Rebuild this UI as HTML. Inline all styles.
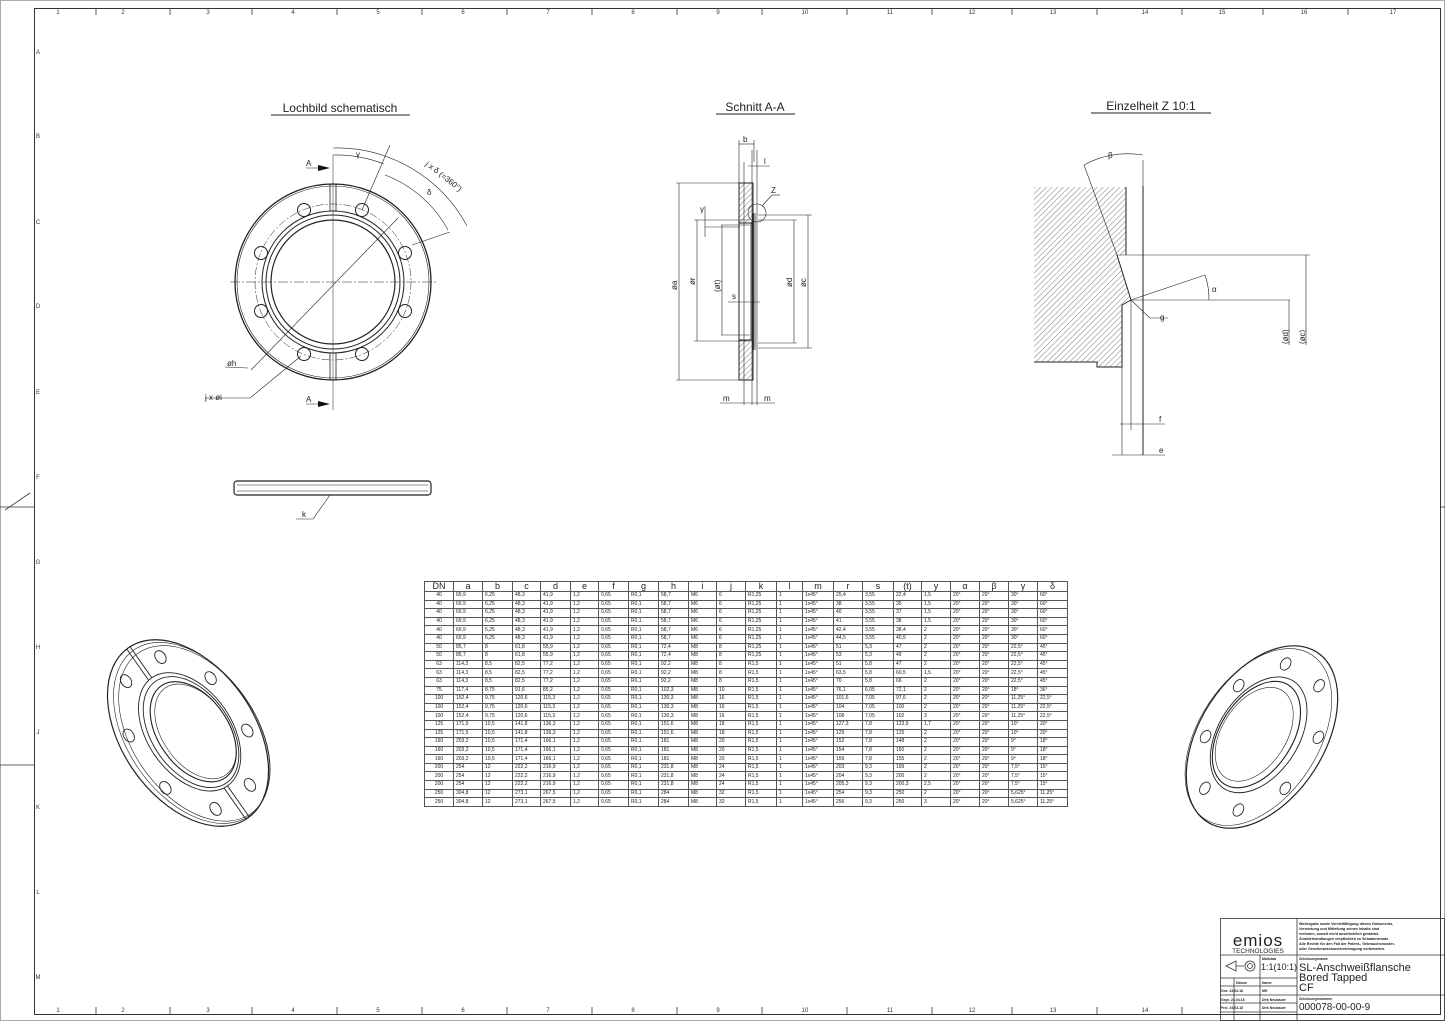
<!DOCTYPE html>
<html><head><meta charset="utf-8"><style>
html,body{margin:0;padding:0;background:#fff;}
body{width:1445px;height:1021px;position:relative;overflow:hidden;font-family:"Liberation Sans",sans-serif;}
svg{position:absolute;left:0;top:0;}
table.t{position:absolute;left:424px;top:581px;border-collapse:collapse;table-layout:fixed;font-family:"Liberation Sans",sans-serif;font-size:5px;color:#222;}
table.t td{border:0.8px solid #555;height:7.6px;padding:0 0 0 2px;line-height:7px;white-space:nowrap;overflow:hidden;}
table.t td:first-child{text-align:center;padding:0;}
table.t tr.h td{height:9px;font-size:9px;text-align:center;line-height:9px;padding:0;}
</style></head><body>
<svg width="1445" height="1021" viewBox="0 0 1445 1021" font-family="Liberation Sans, sans-serif">
<defs>
<pattern id="hat" width="4" height="4" patternUnits="userSpaceOnUse" patternTransform="rotate(45)"><line x1="0" y1="0" x2="0" y2="4" stroke="#444" stroke-width="0.7"/></pattern>
<g id="isoholes">
<ellipse cx="21" cy="-78" rx="5" ry="7"/><ellipse cx="-21" cy="-78" rx="5" ry="7"/><ellipse cx="-50" cy="-32" rx="5" ry="7"/><ellipse cx="50" cy="-32" rx="5" ry="7"/><ellipse cx="-50" cy="32" rx="5" ry="7"/><ellipse cx="50" cy="32" rx="5" ry="7"/><ellipse cx="21" cy="78" rx="5" ry="7"/><ellipse cx="-21" cy="78" rx="5" ry="7"/>
</g>
</defs>
<rect x="0.5" y="0.5" width="1444" height="1020" fill="none" stroke="#aaa"/>
<rect x="34.5" y="8.5" width="1406" height="1006" fill="none" stroke="#333" stroke-width="1"/>
<g stroke="#333" stroke-width="0.8">
<line x1="96" y1="8" x2="96" y2="15"/><line x1="170" y1="8" x2="170" y2="15"/><line x1="252" y1="8" x2="252" y2="15"/><line x1="337" y1="8" x2="337" y2="15"/><line x1="422" y1="8" x2="422" y2="15"/><line x1="507" y1="8" x2="507" y2="15"/><line x1="592" y1="8" x2="592" y2="15"/><line x1="677" y1="8" x2="677" y2="15"/><line x1="762" y1="8" x2="762" y2="15"/><line x1="847" y1="8" x2="847" y2="15"/><line x1="932" y1="8" x2="932" y2="15"/><line x1="1012" y1="8" x2="1012" y2="15"/><line x1="1097" y1="8" x2="1097" y2="15"/><line x1="1182" y1="8" x2="1182" y2="15"/><line x1="1263" y1="8" x2="1263" y2="15"/><line x1="1348" y1="8" x2="1348" y2="15"/>
<line x1="96" y1="1014" x2="96" y2="1007"/><line x1="170" y1="1014" x2="170" y2="1007"/><line x1="252" y1="1014" x2="252" y2="1007"/><line x1="337" y1="1014" x2="337" y2="1007"/><line x1="422" y1="1014" x2="422" y2="1007"/><line x1="507" y1="1014" x2="507" y2="1007"/><line x1="592" y1="1014" x2="592" y2="1007"/><line x1="677" y1="1014" x2="677" y2="1007"/><line x1="762" y1="1014" x2="762" y2="1007"/><line x1="847" y1="1014" x2="847" y2="1007"/><line x1="932" y1="1014" x2="932" y2="1007"/><line x1="1012" y1="1014" x2="1012" y2="1007"/><line x1="1097" y1="1014" x2="1097" y2="1007"/><line x1="1182" y1="1014" x2="1182" y2="1007"/>
<line x1="0" y1="507" x2="34" y2="507"/><line x1="0" y1="765" x2="34" y2="765"/><line x1="30" y1="493" x2="5" y2="510"/><line x1="1441" y1="507" x2="1445" y2="507"/>
</g>
<g font-size="6" fill="#333" text-anchor="middle">
<text x="58" y="14">1</text><text x="123" y="14">2</text><text x="208" y="14">3</text><text x="293" y="14">4</text><text x="378" y="14">5</text><text x="463" y="14">6</text><text x="548" y="14">7</text><text x="633" y="14">8</text><text x="718" y="14">9</text><text x="805" y="14">10</text><text x="890" y="14">11</text><text x="972" y="14">12</text><text x="1053" y="14">13</text><text x="1145" y="14">14</text><text x="1222" y="14">15</text><text x="1304" y="14">16</text><text x="1393" y="14">17</text>
<text x="58" y="1012">1</text><text x="123" y="1012">2</text><text x="208" y="1012">3</text><text x="293" y="1012">4</text><text x="378" y="1012">5</text><text x="463" y="1012">6</text><text x="548" y="1012">7</text><text x="633" y="1012">8</text><text x="718" y="1012">9</text><text x="805" y="1012">10</text><text x="890" y="1012">11</text><text x="972" y="1012">12</text><text x="1053" y="1012">13</text><text x="1145" y="1012">14</text>
<text x="38" y="54">A</text><text x="38" y="138">B</text><text x="38" y="224">C</text><text x="38" y="308">D</text><text x="38" y="394">E</text><text x="38" y="479">F</text><text x="38" y="564">G</text><text x="38" y="649">H</text><text x="38" y="734">J</text><text x="38" y="809">K</text><text x="38" y="894">L</text><text x="38" y="979">M</text>
</g>
<g font-size="12" fill="#222" text-anchor="middle">
<text x="340" y="112">Lochbild schematisch</text><line x1="271" y1="115" x2="410" y2="115" stroke="#222"/>
<text x="755" y="111">Schnitt A-A</text><line x1="716" y1="114" x2="795" y2="114" stroke="#222"/>
<text x="1151" y="110">Einzelheit Z 10:1</text><line x1="1091" y1="113" x2="1211" y2="113" stroke="#222"/>
</g>
<!-- Lochbild -->
<g fill="none" stroke="#222" stroke-width="1">
<circle cx="333" cy="282" r="98" stroke-width="1.3"/><circle cx="333" cy="282" r="96" stroke-width="0.6"/>
<circle cx="333" cy="282" r="71"/><circle cx="333" cy="282" r="67"/><circle cx="333" cy="282" r="62" stroke-width="1.2"/>
<circle cx="333" cy="282" r="78" stroke-width="0.5" stroke-dasharray="8 2 2 2"/>
<circle cx="362" cy="210" r="6.5"/><circle cx="304" cy="210" r="6.5"/><circle cx="405" cy="253" r="6.5"/><circle cx="261" cy="253" r="6.5"/><circle cx="405" cy="311" r="6.5"/><circle cx="261" cy="311" r="6.5"/><circle cx="362" cy="354" r="6.5"/><circle cx="304" cy="354" r="6.5"/>
<rect x="330" y="184" width="6" height="27" stroke-width="0.8"/><rect x="330" y="353" width="6" height="27" stroke-width="0.8"/>
<line x1="230" y1="282" x2="437" y2="282" stroke-width="0.5" stroke-dasharray="10 2 2 2"/>
<line x1="333" y1="155" x2="333" y2="410" stroke-width="0.5"/>
<line x1="251" y1="370" x2="398" y2="218" stroke-width="0.6"/>
<path d="M248 368 L225 367 M301 356 L250 398 L205 398" stroke-width="0.6"/>
<line x1="362" y1="210" x2="390" y2="145" stroke-width="0.6"/><line x1="412" y1="245" x2="450" y2="232" stroke-width="0.6"/>
<path d="M333 155 A135 135 0 0 1 384 164" stroke-width="0.6"/>
<path d="M333 148 A148 148 0 0 1 467 226" stroke-width="0.6"/>
<path d="M385 175 A120 120 0 0 1 448 230" stroke-width="0.6"/>
<line x1="306" y1="168" x2="325" y2="168" stroke-width="0.6"/><line x1="306" y1="404" x2="325" y2="404" stroke-width="0.6"/>
</g>
<path d="M318 165 L330 168 L318 171Z M318 401 L330 404 L318 407Z" fill="#111"/>
<g font-size="8" fill="#222">
<text x="306" y="166">A</text><text x="306" y="402">A</text><text x="356" y="157">γ</text>
<text x="425" y="165" transform="rotate(38 425 165)">j x δ (=360°)</text><text x="427" y="195">δ</text>
<text x="227" y="366">øh</text><text x="205" y="400">j x øi</text>
</g>
<!-- side view -->
<g fill="none" stroke="#222">
<rect x="234" y="481" width="197" height="14" rx="3" stroke-width="1.2"/>
<line x1="237" y1="485" x2="428" y2="485" stroke-width="0.6"/><line x1="237" y1="491" x2="428" y2="491" stroke-width="0.6"/>
<line x1="330" y1="495" x2="313" y2="519" stroke-width="0.6"/><line x1="313" y1="519" x2="296" y2="519" stroke-width="0.6"/>
</g>
<text x="302" y="517" font-size="8" fill="#222">k</text>
<!-- Schnitt A-A -->
<g fill="none" stroke="#222" stroke-width="0.6">
<rect x="739" y="183" width="14" height="40" fill="url(#hat)" stroke-width="1"/>
<rect x="739" y="340" width="14" height="40" fill="url(#hat)" stroke-width="1"/>
<line x1="739" y1="223" x2="739" y2="340" stroke-width="1"/><line x1="751" y1="223" x2="751" y2="340" stroke-width="0.8"/>
<line x1="753" y1="213" x2="753" y2="350" stroke-width="1.8"/><line x1="755" y1="213" x2="755" y2="350" stroke-width="0.8"/>
<line x1="744" y1="162" x2="744" y2="405"/><line x1="752" y1="150" x2="752" y2="405"/><line x1="739" y1="140" x2="739" y2="183"/><line x1="754" y1="140" x2="754" y2="162"/><line x1="757" y1="150" x2="757" y2="405"/>
<line x1="739" y1="144" x2="754" y2="144"/><line x1="748" y1="166" x2="770" y2="166"/>
<line x1="676" y1="183" x2="739" y2="183"/><line x1="676" y1="380" x2="739" y2="380"/><line x1="679" y1="183" x2="679" y2="380"/>
<line x1="694" y1="220" x2="750" y2="220"/><line x1="694" y1="341" x2="750" y2="341"/><line x1="697" y1="220" x2="697" y2="341"/>
<line x1="721" y1="225" x2="750" y2="225"/><line x1="721" y1="335" x2="750" y2="335"/><line x1="722" y1="225" x2="722" y2="335"/>
<line x1="705" y1="206" x2="705" y2="237"/><line x1="705" y1="227" x2="740" y2="227"/>
<line x1="758" y1="215" x2="812" y2="215"/><line x1="758" y1="348" x2="812" y2="348"/><line x1="808" y1="215" x2="808" y2="348"/>
<line x1="758" y1="220" x2="797" y2="220"/><line x1="758" y1="343" x2="797" y2="343"/><line x1="794" y1="220" x2="794" y2="343"/>
<line x1="728" y1="302" x2="760" y2="302"/>
<circle cx="757" cy="213" r="9"/><line x1="762" y1="206" x2="772" y2="195"/><line x1="772" y1="195" x2="780" y2="195"/>
<line x1="720" y1="403" x2="775" y2="403"/>
</g>
<g font-size="8" fill="#222">
<text x="743" y="142">b</text><text x="764" y="164">l</text><text x="771" y="193">Z</text><text x="700" y="212">γ</text>
<text x="677" y="290" transform="rotate(-90 677 290)">øa</text><text x="695" y="285" transform="rotate(-90 695 285)">ør</text>
<text x="720" y="292" transform="rotate(-90 720 292)">(øt)</text><text x="732" y="299">s</text>
<text x="792" y="287" transform="rotate(-90 792 287)">ød</text><text x="806" y="287" transform="rotate(-90 806 287)">øc</text>
<text x="723" y="401">m</text><text x="764" y="401">m</text>
</g>
<!-- Einzelheit Z -->
<g fill="none" stroke="#222" stroke-width="0.6">
<path d="M1034 187 L1126 187 L1126 255 L1117 255 L1131 300 L1122 305 L1122 367 L1097 367 L1097 362 L1034 362" fill="url(#hat)" stroke="none"/>
<path d="M1126 187 L1126 255 M1034 362 L1097 362 L1097 367 L1122 367 L1122 305 L1131 300" stroke-width="1"/>
<line x1="1143" y1="186" x2="1143" y2="455" stroke-width="1"/><line x1="1131" y1="300" x2="1131" y2="430"/><line x1="1122" y1="305" x2="1122" y2="455"/>
<line x1="1117" y1="255" x2="1310" y2="255"/><line x1="1131" y1="300" x2="1290" y2="300"/>
<line x1="1117" y1="255" x2="1131" y2="300" stroke-width="1"/><line x1="1117" y1="255" x2="1084" y2="165"/><line x1="1143" y1="160" x2="1143" y2="186"/>
<path d="M1084 165 A90 90 0 0 1 1143 155"/>
<line x1="1131" y1="300" x2="1205" y2="275"/><path d="M1205 275 A75 75 0 0 1 1209 300"/>
<line x1="1131" y1="300" x2="1150" y2="318"/><line x1="1150" y1="318" x2="1168" y2="318"/>
<line x1="1306" y1="255" x2="1306" y2="345"/><line x1="1289" y1="300" x2="1289" y2="345"/>
<line x1="1120" y1="424" x2="1165" y2="424"/><line x1="1112" y1="455" x2="1165" y2="455"/>
</g>
<g font-size="8" fill="#222">
<text x="1108" y="158">β</text><text x="1212" y="292">α</text><text x="1160" y="320">g</text>
<text x="1288" y="344" transform="rotate(-90 1288 344)">(ød)</text><text x="1305" y="344" transform="rotate(-90 1305 344)">(øc)</text>
<text x="1159" y="422">f</text><text x="1159" y="453">e</text>
</g>
<!-- iso left -->
<g fill="none" stroke="#222" stroke-width="0.9" transform="translate(188 733) rotate(-35)">
<ellipse rx="66" ry="104" stroke-width="1.2"/><ellipse cx="3" cy="2" rx="64" ry="101" stroke-width="0.6"/><ellipse cx="5" cy="4" rx="62" ry="98" stroke-width="0.6"/>
<ellipse cx="2" cy="0" rx="42" ry="66"/><ellipse cx="3" cy="1" rx="39" ry="62"/><ellipse cx="5" cy="2" rx="35" ry="56" stroke-width="1.1"/><ellipse cx="7" cy="3" rx="33" ry="53" stroke-width="0.6"/>
<use href="#isoholes"/>
<line x1="-2" y1="-104" x2="-2" y2="-66"/><line x1="2" y1="-104" x2="2" y2="-66"/><line x1="-2" y1="104" x2="-2" y2="66"/><line x1="2" y1="104" x2="2" y2="66"/>
</g>
<!-- iso right -->
<g fill="none" stroke="#222" stroke-width="0.9" transform="translate(1262 737) rotate(33)">
<ellipse rx="62" ry="101" stroke-width="1.2"/><ellipse cx="-3" cy="2" rx="60" ry="98" stroke-width="0.6"/>
<ellipse cx="-4" cy="0" rx="40" ry="64"/><ellipse cx="-6" cy="1" rx="36" ry="59" stroke-width="1.1"/><ellipse cx="-8" cy="2" rx="32" ry="52" stroke-width="0.6"/>
<g transform="scale(0.95)"><use href="#isoholes"/></g>
</g>
<!-- title block -->
<g fill="none" stroke="#333" stroke-width="0.8">
<rect x="1220.5" y="918.5" width="224" height="102"/>
<line x1="1297" y1="918" x2="1297" y2="1021"/><line x1="1220" y1="955" x2="1445" y2="955"/>
<line x1="1260" y1="955" x2="1260" y2="978"/><line x1="1220" y1="978" x2="1297" y2="978"/>
<line x1="1220" y1="986" x2="1297" y2="986"/><line x1="1220" y1="995" x2="1297" y2="995"/><line x1="1220" y1="1003" x2="1297" y2="1003"/><line x1="1220" y1="1012" x2="1297" y2="1012"/>
<line x1="1234" y1="978" x2="1234" y2="1021"/><line x1="1260" y1="978" x2="1260" y2="1021"/>
<line x1="1297" y1="995" x2="1445" y2="995"/>
<path d="M1226 966 L1236 961 L1236 971Z M1236 966 L1244 966"/><circle cx="1250" cy="966" r="5"/><circle cx="1250" cy="966" r="2.5"/>
</g>
<g fill="#222">
<text x="1258" y="946" font-size="17" text-anchor="middle" font-weight="300" letter-spacing="1">emios</text>
<text x="1258" y="953" font-size="6.5" text-anchor="middle">TECHNOLOGIES</text>
<text x="1262" y="960" font-size="3.5" font-weight="bold">Maßstab</text>
<text x="1261" y="970" font-size="9">1:1(10:1)</text>
<text x="1236" y="984" font-size="3.5" font-weight="bold">Datum</text><text x="1262" y="984" font-size="3.5" font-weight="bold">Name</text>
<text x="1221" y="992" font-size="3.5" font-weight="bold">Gez. 24.04.18</text><text x="1262" y="992" font-size="3.5" font-weight="bold">MH</text>
<text x="1221" y="1001" font-size="3.5" font-weight="bold">Gepr. 24.04.18</text><text x="1262" y="1001" font-size="3.5" font-weight="bold">Dirk Neubauer</text>
<text x="1221" y="1009" font-size="3.5" font-weight="bold">Frei. 24.04.18</text><text x="1262" y="1009" font-size="3.5" font-weight="bold">Dirk Neubauer</text>
<text x="1299" y="925" font-size="3.7" font-weight="bold">Weitergabe sowie Vervielfältigung dieses Dokuments,</text>
<text x="1299" y="930" font-size="3.7" font-weight="bold">Verwertung und Mitteilung seines Inhalts sind</text>
<text x="1299" y="935" font-size="3.7" font-weight="bold">verboten, soweit nicht ausdrücklich gestattet.</text>
<text x="1299" y="940" font-size="3.7" font-weight="bold">Zuwiderhandlungen verpflichten zu Schadenersatz.</text>
<text x="1299" y="945" font-size="3.7" font-weight="bold">Alle Rechte für den Fall der Patent-, Gebrauchsmuster-</text>
<text x="1299" y="950" font-size="3.7" font-weight="bold">oder Geschmacksmustereintragung vorbehalten.</text>
<text x="1299" y="960" font-size="3.5" font-weight="bold">Zeichnungsname</text>
<text x="1299" y="971" font-size="11">SL-Anschweißflansche</text>
<text x="1299" y="981" font-size="11">Bored Tapped</text>
<text x="1299" y="991" font-size="11">CF</text>
<text x="1299" y="1000" font-size="3.5" font-weight="bold">Zeichnungsnummer</text>
<text x="1299" y="1010" font-size="10">000078-00-00-9</text>
</g>
</svg>
<table class="t">
<colgroup><col style="width:29px"><col style="width:29px"><col style="width:30px"><col style="width:28px"><col style="width:30px"><col style="width:28px"><col style="width:30px"><col style="width:30px"><col style="width:30px"><col style="width:28px"><col style="width:29px"><col style="width:31px"><col style="width:26px"><col style="width:31px"><col style="width:29px"><col style="width:31px"><col style="width:28px"><col style="width:29px"><col style="width:29px"><col style="width:29px"><col style="width:29px"><col style="width:30px"></colgroup>
<tr class="h"><td>DN</td><td>a</td><td>b</td><td>c</td><td>d</td><td>e</td><td>f</td><td>g</td><td>h</td><td>i</td><td>j</td><td>k</td><td>l</td><td>m</td><td>r</td><td>s</td><td>(t)</td><td>y</td><td>α</td><td>β</td><td>γ</td><td>δ</td></tr>
<tr><td>40</td><td>69,9</td><td>6,25</td><td>48,3</td><td>41,9</td><td>1,2</td><td>0,65</td><td>R0,1</td><td>58,7</td><td>M6</td><td>6</td><td>R1,25</td><td>1</td><td>1x45°</td><td>25,4</td><td>3,55</td><td>22,4</td><td>1,5</td><td>20°</td><td>20°</td><td>30°</td><td>60°</td></tr>
<tr><td>40</td><td>69,9</td><td>6,25</td><td>48,3</td><td>41,9</td><td>1,2</td><td>0,65</td><td>R0,1</td><td>58,7</td><td>M6</td><td>6</td><td>R1,25</td><td>1</td><td>1x45°</td><td>38</td><td>3,55</td><td>35</td><td>1,5</td><td>20°</td><td>20°</td><td>30°</td><td>60°</td></tr>
<tr><td>40</td><td>69,9</td><td>6,25</td><td>48,3</td><td>41,9</td><td>1,2</td><td>0,65</td><td>R0,1</td><td>58,7</td><td>M6</td><td>6</td><td>R1,25</td><td>1</td><td>1x45°</td><td>40</td><td>3,55</td><td>37</td><td>1,5</td><td>20°</td><td>20°</td><td>30°</td><td>60°</td></tr>
<tr><td>40</td><td>69,9</td><td>6,25</td><td>48,3</td><td>41,9</td><td>1,2</td><td>0,65</td><td>R0,1</td><td>58,7</td><td>M6</td><td>6</td><td>R1,25</td><td>1</td><td>1x45°</td><td>41</td><td>3,55</td><td>38</td><td>1,5</td><td>20°</td><td>20°</td><td>30°</td><td>60°</td></tr>
<tr><td>40</td><td>69,9</td><td>6,25</td><td>48,3</td><td>41,9</td><td>1,2</td><td>0,65</td><td>R0,1</td><td>58,7</td><td>M6</td><td>6</td><td>R1,25</td><td>1</td><td>1x45°</td><td>42,4</td><td>3,55</td><td>38,4</td><td>2</td><td>20°</td><td>20°</td><td>30°</td><td>60°</td></tr>
<tr><td>40</td><td>69,9</td><td>6,25</td><td>48,3</td><td>41,9</td><td>1,2</td><td>0,65</td><td>R0,1</td><td>58,7</td><td>M6</td><td>6</td><td>R1,25</td><td>1</td><td>1x45°</td><td>44,5</td><td>3,55</td><td>40,5</td><td>2</td><td>20°</td><td>20°</td><td>30°</td><td>60°</td></tr>
<tr><td>50</td><td>85,7</td><td>8</td><td>61,8</td><td>55,9</td><td>1,2</td><td>0,65</td><td>R0,1</td><td>72,4</td><td>M8</td><td>8</td><td>R1,25</td><td>1</td><td>1x45°</td><td>51</td><td>5,3</td><td>47</td><td>2</td><td>20°</td><td>20°</td><td>22,5°</td><td>45°</td></tr>
<tr><td>50</td><td>85,7</td><td>8</td><td>61,8</td><td>55,9</td><td>1,2</td><td>0,65</td><td>R0,1</td><td>72,4</td><td>M8</td><td>8</td><td>R1,25</td><td>1</td><td>1x45°</td><td>53</td><td>5,3</td><td>49</td><td>2</td><td>20°</td><td>20°</td><td>22,5°</td><td>45°</td></tr>
<tr><td>63</td><td>114,3</td><td>8,5</td><td>82,5</td><td>77,2</td><td>1,2</td><td>0,65</td><td>R0,1</td><td>92,2</td><td>M8</td><td>8</td><td>R1,5</td><td>1</td><td>1x45°</td><td>51</td><td>5,8</td><td>47</td><td>2</td><td>20°</td><td>20°</td><td>22,5°</td><td>45°</td></tr>
<tr><td>63</td><td>114,3</td><td>8,5</td><td>82,5</td><td>77,2</td><td>1,2</td><td>0,65</td><td>R0,1</td><td>92,2</td><td>M8</td><td>8</td><td>R1,5</td><td>1</td><td>1x45°</td><td>63,5</td><td>5,8</td><td>60,5</td><td>1,5</td><td>20°</td><td>20°</td><td>22,5°</td><td>45°</td></tr>
<tr><td>63</td><td>114,3</td><td>8,5</td><td>82,5</td><td>77,2</td><td>1,2</td><td>0,65</td><td>R0,1</td><td>92,2</td><td>M8</td><td>8</td><td>R1,5</td><td>1</td><td>1x45°</td><td>70</td><td>5,8</td><td>66</td><td>2</td><td>20°</td><td>20°</td><td>22,5°</td><td>45°</td></tr>
<tr><td>75</td><td>117,4</td><td>8,75</td><td>91,6</td><td>85,2</td><td>1,2</td><td>0,65</td><td>R0,1</td><td>102,3</td><td>M8</td><td>10</td><td>R1,5</td><td>1</td><td>1x45°</td><td>76,1</td><td>6,05</td><td>72,1</td><td>2</td><td>20°</td><td>20°</td><td>18°</td><td>36°</td></tr>
<tr><td>100</td><td>152,4</td><td>9,75</td><td>120,6</td><td>115,3</td><td>1,2</td><td>0,65</td><td>R0,1</td><td>130,3</td><td>M8</td><td>16</td><td>R1,5</td><td>1</td><td>1x45°</td><td>101,6</td><td>7,05</td><td>97,6</td><td>2</td><td>20°</td><td>20°</td><td>11,25°</td><td>22,5°</td></tr>
<tr><td>100</td><td>152,4</td><td>9,75</td><td>120,6</td><td>115,3</td><td>1,2</td><td>0,65</td><td>R0,1</td><td>130,3</td><td>M8</td><td>16</td><td>R1,5</td><td>1</td><td>1x45°</td><td>104</td><td>7,05</td><td>100</td><td>2</td><td>20°</td><td>20°</td><td>11,25°</td><td>22,5°</td></tr>
<tr><td>100</td><td>152,4</td><td>9,75</td><td>120,6</td><td>115,3</td><td>1,2</td><td>0,65</td><td>R0,1</td><td>130,3</td><td>M8</td><td>16</td><td>R1,5</td><td>1</td><td>1x45°</td><td>108</td><td>7,05</td><td>102</td><td>3</td><td>20°</td><td>20°</td><td>11,25°</td><td>22,5°</td></tr>
<tr><td>125</td><td>171,5</td><td>10,5</td><td>141,8</td><td>136,3</td><td>1,2</td><td>0,65</td><td>R0,1</td><td>151,6</td><td>M8</td><td>18</td><td>R1,5</td><td>1</td><td>1x45°</td><td>127,3</td><td>7,8</td><td>123,9</td><td>1,7</td><td>20°</td><td>20°</td><td>10°</td><td>20°</td></tr>
<tr><td>125</td><td>171,5</td><td>10,5</td><td>141,8</td><td>136,3</td><td>1,2</td><td>0,65</td><td>R0,1</td><td>151,6</td><td>M8</td><td>18</td><td>R1,5</td><td>1</td><td>1x45°</td><td>129</td><td>7,8</td><td>125</td><td>2</td><td>20°</td><td>20°</td><td>10°</td><td>20°</td></tr>
<tr><td>160</td><td>203,2</td><td>10,5</td><td>171,4</td><td>166,1</td><td>1,2</td><td>0,65</td><td>R0,1</td><td>181</td><td>M8</td><td>20</td><td>R1,5</td><td>1</td><td>1x45°</td><td>152</td><td>7,8</td><td>148</td><td>2</td><td>20°</td><td>20°</td><td>9°</td><td>18°</td></tr>
<tr><td>160</td><td>203,2</td><td>10,5</td><td>171,4</td><td>166,1</td><td>1,2</td><td>0,65</td><td>R0,1</td><td>181</td><td>M8</td><td>20</td><td>R1,5</td><td>1</td><td>1x45°</td><td>154</td><td>7,8</td><td>150</td><td>2</td><td>20°</td><td>20°</td><td>9°</td><td>18°</td></tr>
<tr><td>160</td><td>203,2</td><td>10,5</td><td>171,4</td><td>166,1</td><td>1,2</td><td>0,65</td><td>R0,1</td><td>181</td><td>M8</td><td>20</td><td>R1,5</td><td>1</td><td>1x45°</td><td>159</td><td>7,8</td><td>155</td><td>2</td><td>20°</td><td>20°</td><td>9°</td><td>18°</td></tr>
<tr><td>200</td><td>254</td><td>12</td><td>222,2</td><td>216,9</td><td>1,2</td><td>0,65</td><td>R0,1</td><td>231,8</td><td>M8</td><td>24</td><td>R1,5</td><td>1</td><td>1x45°</td><td>203</td><td>9,3</td><td>199</td><td>2</td><td>20°</td><td>20°</td><td>7,5°</td><td>15°</td></tr>
<tr><td>200</td><td>254</td><td>12</td><td>222,2</td><td>216,9</td><td>1,2</td><td>0,65</td><td>R0,1</td><td>231,8</td><td>M8</td><td>24</td><td>R1,5</td><td>1</td><td>1x45°</td><td>204</td><td>9,3</td><td>200</td><td>2</td><td>20°</td><td>20°</td><td>7,5°</td><td>15°</td></tr>
<tr><td>200</td><td>254</td><td>12</td><td>222,2</td><td>216,9</td><td>1,2</td><td>0,65</td><td>R0,1</td><td>231,8</td><td>M8</td><td>24</td><td>R1,5</td><td>1</td><td>1x45°</td><td>205,3</td><td>9,3</td><td>200,3</td><td>2,5</td><td>20°</td><td>20°</td><td>7,5°</td><td>15°</td></tr>
<tr><td>250</td><td>304,8</td><td>12</td><td>273,1</td><td>267,5</td><td>1,2</td><td>0,65</td><td>R0,1</td><td>284</td><td>M8</td><td>32</td><td>R1,5</td><td>1</td><td>1x45°</td><td>254</td><td>9,3</td><td>250</td><td>2</td><td>20°</td><td>20°</td><td>5,625°</td><td>11,25°</td></tr>
<tr><td>250</td><td>304,8</td><td>12</td><td>273,1</td><td>267,5</td><td>1,2</td><td>0,65</td><td>R0,1</td><td>284</td><td>M8</td><td>32</td><td>R1,5</td><td>1</td><td>1x45°</td><td>256</td><td>9,3</td><td>250</td><td>3</td><td>20°</td><td>20°</td><td>5,625°</td><td>11,25°</td></tr>
</table>
</body></html>
